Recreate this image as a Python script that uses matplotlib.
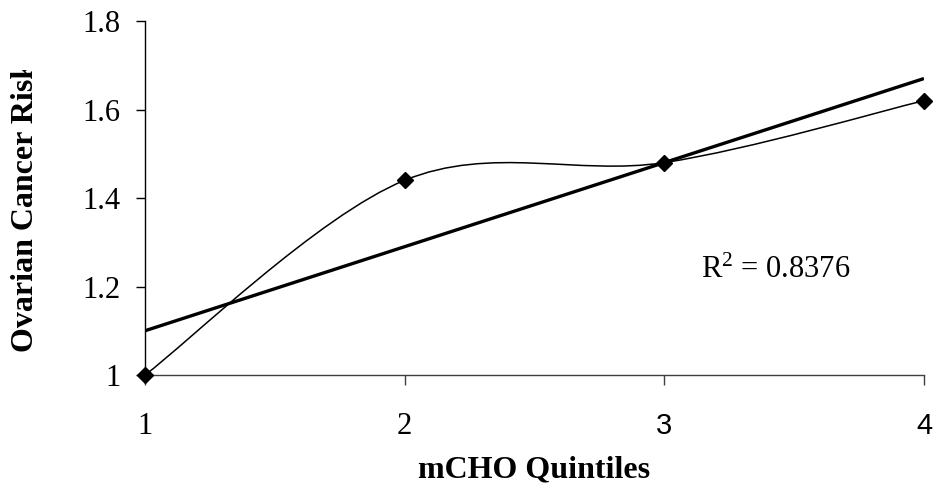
import numpy as np
import matplotlib
matplotlib.use("Agg")
import matplotlib.pyplot as plt
from matplotlib.path import Path
from matplotlib.patches import PathPatch
from matplotlib.transforms import Bbox
from matplotlib.ticker import FuncFormatter

plt.rcParams['font.family'] = ['Liberation Serif', 'DejaVu Serif']
plt.rcParams['mathtext.fontset'] = 'custom'
plt.rcParams['mathtext.rm'] = 'Liberation Serif'
plt.rcParams['mathtext.it'] = 'Liberation Serif:italic'

# quintile vs relative risk
quintiles = [1, 2, 3, 4]
risk = [1.0, 1.44, 1.48, 1.62]
xticks = [1, 2, 3, 4]
yticks = [1.0, 1.2, 1.4, 1.6, 1.8]


def smooth_path(xs, ys):
    """Bezier curve through the points, like a spreadsheet 'smoothed line'."""
    pts = np.column_stack([xs, ys]).astype(float)
    n = len(pts)
    verts = [pts[0]]
    codes = [Path.MOVETO]
    for i in range(n - 1):
        p_prev = pts[max(i - 1, 0)]
        p0 = pts[i]
        p1 = pts[i + 1]
        p_next = pts[min(i + 2, n - 1)]
        c1 = p0 + (p1 - p_prev) / 6.0
        c2 = p1 - (p_next - p0) / 6.0
        verts += [c1, c2, p1]
        codes += [Path.CURVE4] * 3
    return Path(verts, codes)


x = np.array(quintiles, dtype=float)
y = np.array(risk)
slope, intercept = np.polyfit(x, y, 1)
fit = slope * x + intercept
r2 = 1 - np.sum((y - fit) ** 2) / np.sum((y - y.mean()) ** 2)

fig = plt.figure(figsize=(9.35, 4.99), dpi=100)
ax = fig.add_axes([0.1551, 0.2485, 0.8331, 0.7094])

ax.add_patch(PathPatch(smooth_path(x, y), facecolor='none',
                       edgecolor='black', lw=1.1, zorder=2))
ax.plot(x[[0, -1]], fit[[0, -1]], color='black', lw=2.4,
        solid_capstyle='butt', zorder=3)
ax.plot(x, y, linestyle='none', marker='D', markersize=8,
        color='black', clip_on=False, zorder=4)

ax.set_xlim(1, 4)
ax.set_ylim(1.0, 1.8)
ax.set_xticks(xticks)
ax.set_yticks(yticks)
ax.yaxis.set_major_formatter(FuncFormatter(lambda v, p: '%g' % v))

for side in ['top', 'right']:
    ax.spines[side].set_visible(False)
ax.spines['left'].set_linewidth(1.0)
ax.spines['bottom'].set_linewidth(1.0)
ax.spines['bottom'].set_color('#404040')

ax.tick_params(axis='y', direction='out', length=6.5, width=1.0,
               pad=11, labelsize=22)
ax.tick_params(axis='x', direction='out', length=7, width=1.0,
               color='#404040', pad=20, labelsize=22)
for lbl in ax.get_xticklabels()[2:]:
    lbl.set_fontfamily('Liberation Sans')
    lbl.set_fontsize(21)

ax.set_xlabel('mCHO Quintiles', fontsize=23, fontweight='bold', labelpad=10)

# y label runs past the top of its box and gets cut there
ylab = fig.text(0.027, 0.587, 'Ovarian Cancer Risk', rotation=90,
                ha='center', va='center', fontsize=23, fontweight='bold')
ylab.set_clip_box(Bbox.from_extents(0, 0, 935, 499 - 70))

ax.text(3.14, 1.237, r'R$^2$ = %.4f' % r2, fontsize=22, va='center')

fig.savefig('out.png', dpi=100)
